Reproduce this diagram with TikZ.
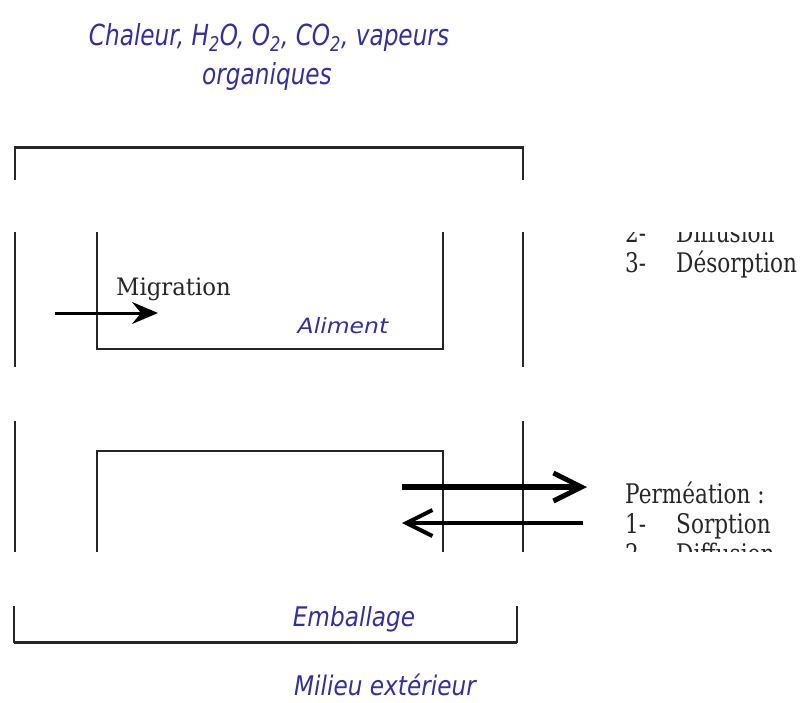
\documentclass[tikz,border=0pt]{standalone}
\usepackage{fontspec}
\setmainfont{DejaVu Serif}
\newfontfamily\blkA[FakeStretch=0.8]{DejaVu Serif}
\newfontfamily\blkB[FakeStretch=0.95]{DejaVu Serif}
\newfontfamily\blueA[FakeStretch=0.8]{DejaVu Sans}
\newfontfamily\blueB[FakeStretch=0.86]{DejaVu Sans}
\newfontfamily\blueC[FakeStretch=1.12]{DejaVu Sans}
\usetikzlibrary{arrows.meta}
\definecolor{bluetxt}{RGB}{52,48,155}
\begin{document}
\begin{tikzpicture}[x=1pt,y=-1pt,
  bluelbl/.style={text=bluetxt, font=\blueB\itshape\fontsize{27}{30}\selectfont, inner sep=0, anchor=base},
  blk/.style={text=black!85, font=\blkA\fontsize{27}{30}\selectfont, inner sep=0, anchor=base west},
  outerline/.style={line width=2pt, draw=black!85},
  innerline/.style={line width=1.6pt, draw=black!85},
  gapband/.style={fill=white, draw=none}]
\useasboundingbox (0,0) rectangle (803,702);
% ---- title
\node[bluelbl, font=\blueA\itshape\fontsize{29}{30}\selectfont] (title1) at (269,45) {Chaleur, H\textsubscript{2}O, O\textsubscript{2}, CO\textsubscript{2}, vapeurs};
\node[bluelbl, font=\blueA\itshape\fontsize{29}{30}\selectfont] (title2) at (267,84) {organiques};
% ---- outer box (emballage)
\coordinate (otl) at (15,147);
\coordinate (otr) at (523,147);
\coordinate (obl) at (14,642);
\coordinate (obr) at (517,642);
\draw[outerline, line width=3pt] (otl) -- (otr);
\draw[outerline] (15,146) -- (15,604);
\draw[outerline] (523,146) -- (523,604);
\draw[outerline] (14,604) -- (obl) -- (obr) -- (517,604);
\draw[outerline, line width=3pt] (obl) -- (obr);
% ---- inner box (aliment)
\coordinate (ibl) at (97,349);
\coordinate (ibr) at (443,349);
\coordinate (itl) at (97,451);
\coordinate (itr) at (443,451);
\draw[innerline] (97,180) -- (ibl) -- (ibr) -- (443,180);
\draw[innerline, line width=2.6pt] (ibl) -- (ibr);
\draw[innerline] (97,560) -- (itl) -- (itr) -- (443,560);
\draw[innerline, line width=2.6pt] (itl) -- (itr);
% ---- labels
\node[bluelbl, font=\blueC\itshape\fontsize{21}{24}\selectfont] (aliment) at (343,333) {Aliment};
\node[bluelbl] (emballage) at (354,626) {Emballage};
\node[bluelbl] (milieu) at (385,695) {Milieu extérieur};
\node[blk, font=\blkB\fontsize{24}{26}\selectfont] (migration) at (116,295) {Migration};
\coordinate (m1) at (55,313);
\coordinate (m2) at (158,313);
\draw[line width=3pt, -{Stealth[length=26pt,width=22pt,inset=9pt]}] (m1) -- (m2);
% ---- permeation arrows
\coordinate (p1) at (402,487);
\coordinate (p2) at (587,487);
\coordinate (q1) at (583,523);
\coordinate (q2) at (402,523);
\draw[line width=6pt, -{Straight Barb[length=28pt,width=28pt,line width=5pt]}] (p1) -- (p2);
\draw[line width=4pt, -{Straight Barb[length=26pt,width=26pt,line width=4pt]}] (q1) -- (q2);
% ---- right lists
\node[blk] (perm) at (625,503) {Perméation :};
\node[blk] (s1n) at (625,533) {1-};
\node[blk] (s1) at (676,533) {Sorption};
\node[blk] (s2n) at (625,563) {2-};
\node[blk] (s2) at (676,563) {Diffusion};
\node[blk] (d2n) at (625,242) {2-};
\node[blk] (d2) at (676,242) {Diffusion};
\node[blk] (d3n) at (625,272) {3-};
\node[blk] (d3) at (676,272) {Désorption};
% ---- cut bands
\fill[gapband] (0,180) rectangle (803,232);
\fill[gapband] (0,367) rectangle (803,421);
\fill[gapband] (0,552) rectangle (803,606);
\end{tikzpicture}
\end{document}
